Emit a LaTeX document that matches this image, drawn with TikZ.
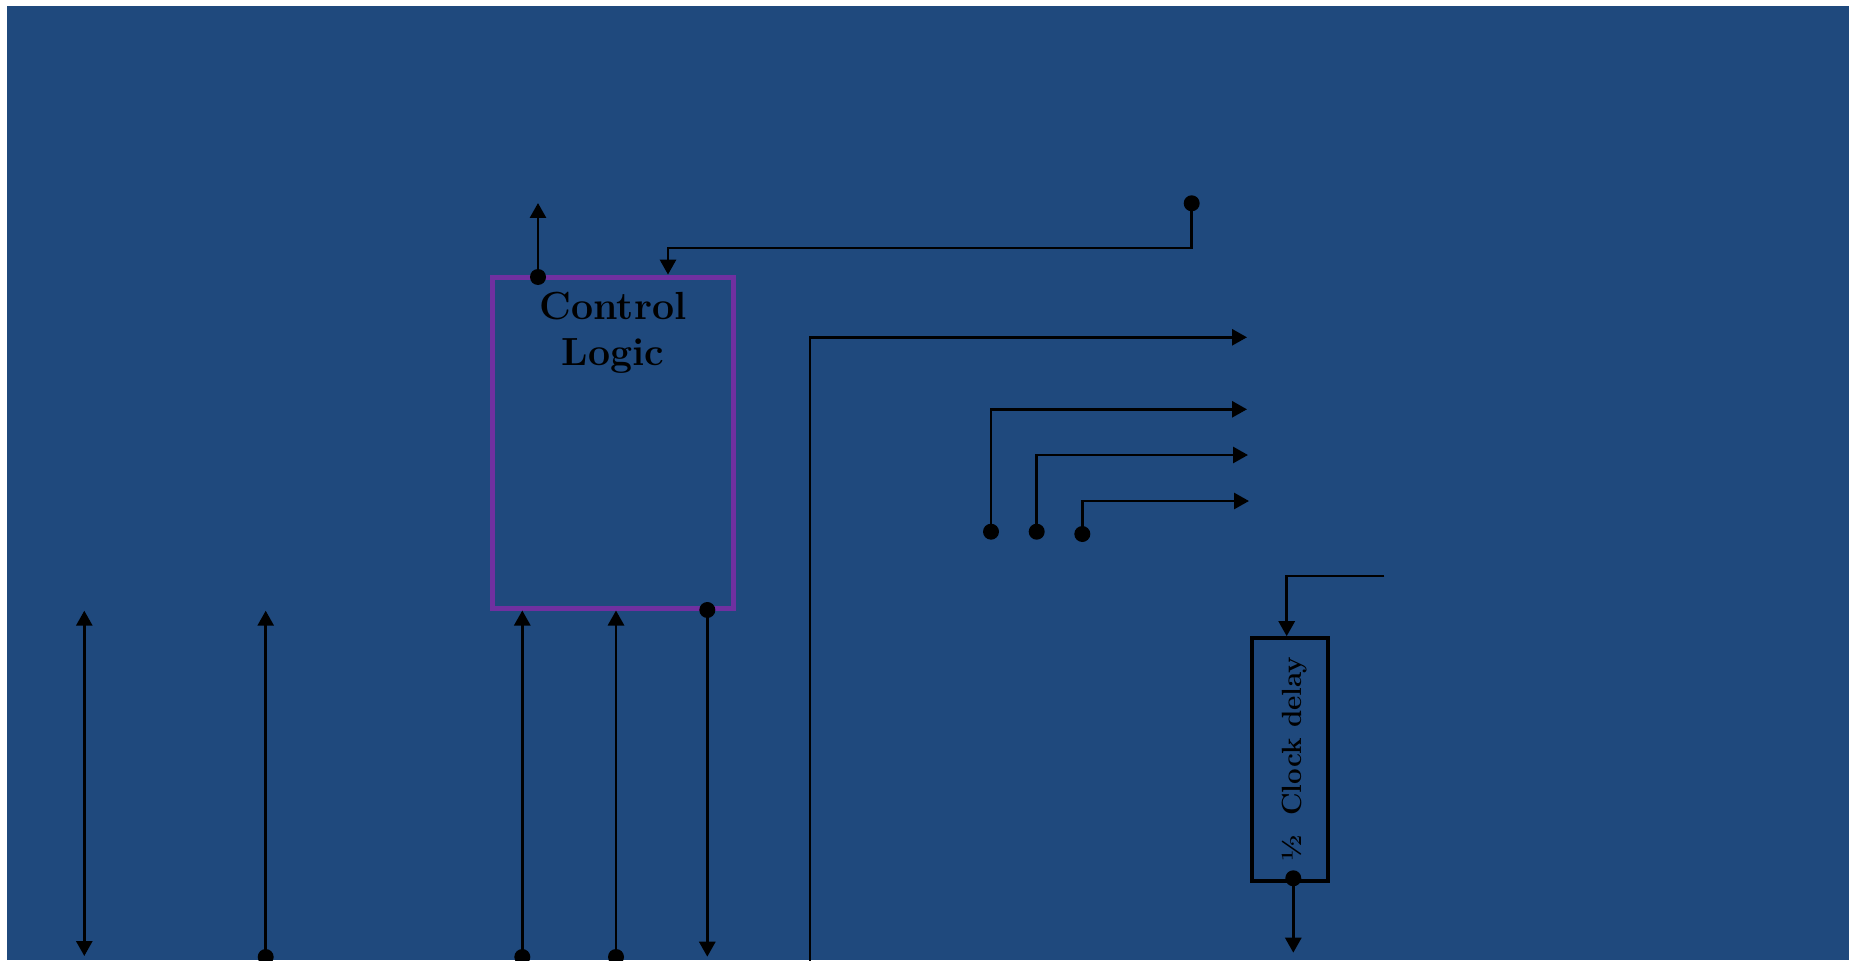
\documentclass[tikz,border=0pt]{standalone}
\usetikzlibrary{arrows.meta}
\definecolor{bgblue}{RGB}{31,73,125}
\definecolor{clpurple}{RGB}{112,48,160}
\begin{document}
\begin{tikzpicture}[x=0.5pt,y=-0.5pt,
  wire/.style={line width=1.4pt, draw=black},
  tip/.tip={Triangle[length=7.5pt,width=8pt]},
  arr/.style={wire,-tip},
  dblarr/.style={wire,tip-tip},
  dot/.style={circle,fill=black,inner sep=0pt,minimum size=8pt},
  clbox/.style={draw=clpurple,line width=2.5pt,minimum width=120.75pt,minimum height=165.5pt,inner sep=0pt},
  ckbox/.style={draw=black,line width=1.7pt,minimum width=38pt,minimum height=121.5pt,inner sep=0pt},
  bigtext/.style={font=\bfseries\fontsize{19.6}{22.8}\selectfont,align=center,inner sep=0pt},
  smalltext/.style={font=\bfseries\fontsize{13.9}{16}\selectfont,inner sep=0pt}]
\useasboundingbox (0,0) rectangle (1849,963);
\fill[white] (0,0) rectangle (1849,963);
\fill[bgblue] (7,6) rectangle (1849,960);
\begin{scope}
\clip (7,6) rectangle (1849,960);
% boxes
\node[clbox] (cl) at (613.2,442.6) {};
\node[bigtext] (cltext) at (613,332.7) {Control\\Logic};
\node[ckbox] (ck) at (1290,759.4) {};
\node[smalltext,rotate=90,anchor=base] (cktext) at (1301.5,759) {½\hspace{0.3em} Clock delay};
% dots
\node[dot] (dtop) at (538,277) {};
\node[dot] (dsrc) at (1191.7,203.3) {};
\node[dot] (d1) at (991,531.7) {};
\node[dot] (d2) at (1036.7,531.7) {};
\node[dot] (d3) at (1082.3,534) {};
\node[dot] (dck) at (1293.3,878.3) {};
\node[dot] (dcl) at (707.3,610) {};
\node[dot] (db1) at (265.7,957) {};
\node[dot] (db2) at (522.3,957) {};
\node[dot] (db3) at (616,957) {};
% free ends
\coordinate (ctop) at (538,203);
\coordinate (clin) at (668,248);
\coordinate (b1s) at (810,962);
\coordinate (b1e) at (1247,337.3);
\coordinate (e1) at (1247,409.3);
\coordinate (e2) at (1248,455);
\coordinate (e3) at (1249,501);
\coordinate (ckin) at (1384.3,576);
\coordinate (ckinx) at (1286.7,576);
\coordinate (ckout) at (1293.3,952.7);
\coordinate (l1a) at (84.3,610.7);
\coordinate (l1b) at (84.3,956);
\coordinate (t1) at (265.7,610.7);
\coordinate (t2) at (522.3,610.5);
\coordinate (t3) at (616,610.5);
\coordinate (b4) at (707.3,956.7);
% connectors
\draw[arr] (dtop.center) -- (ctop);
\draw[arr] (dsrc.center) |- (clin) -- (cl.north -| clin);
\draw[arr] (b1s) |- (b1e);
\draw[arr] (d1.center) |- (e1);
\draw[arr] (d2.center) |- (e2);
\draw[arr] (d3.center) |- (e3);
\draw[arr] (ckin) -- (ckinx) -- (ck.north -| ckinx);
\draw[arr] (dck.center) -- (ckout);
\draw[dblarr] (l1a) -- (l1b);
\draw[arr] (db1.center) -- (t1);
\draw[arr] (db2.center) -- (t2);
\draw[arr] (db3.center) -- (t3);
\draw[arr] (dcl.center) -- (b4);
\end{scope}
\end{tikzpicture}
\end{document}
